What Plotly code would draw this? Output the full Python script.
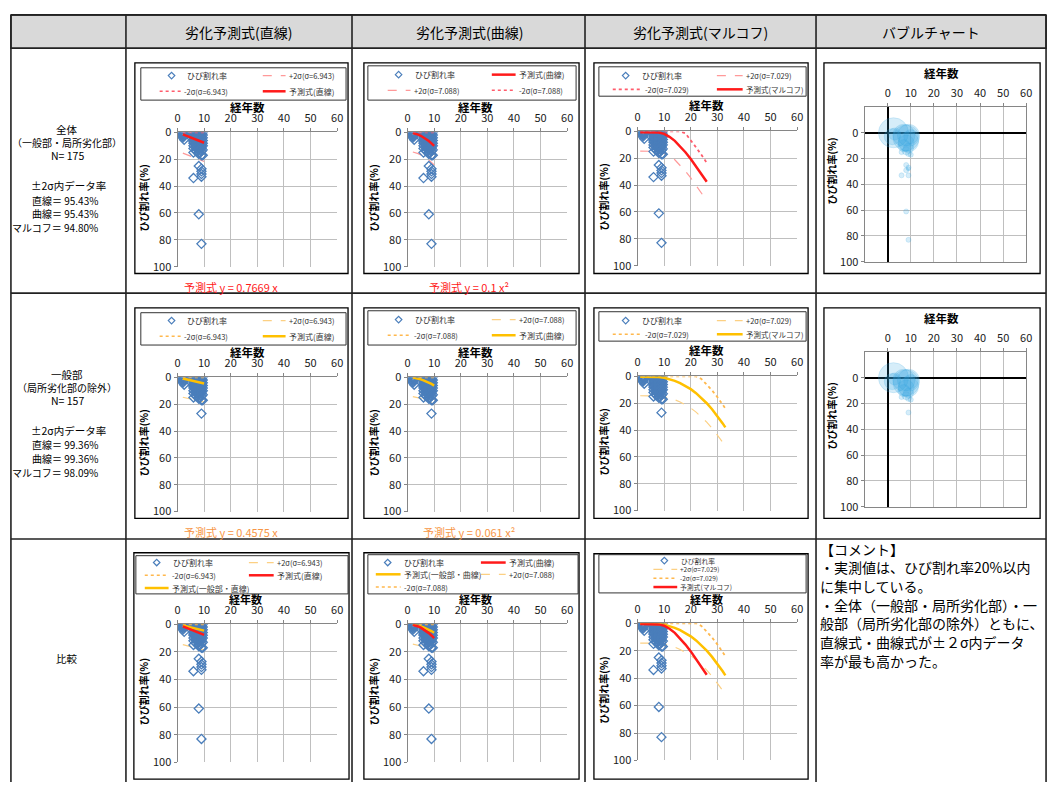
import plotly.graph_objects as go

W, H = 1058, 789
FONT = "Noto Sans CJK JP"

# ---------------- data ----------------
year_ticks = [0, 10, 20, 30, 40, 50, 60]
rate_ticks = [0, 20, 40, 60, 80, 100]

# observed crack rate (%) vs years, 全体 N=175
full_x = [2, 2, 2, 2, 2, 2, 2,
          2.5, 2.5, 2.5, 2.5,
          6, 6, 6, 6, 6, 6, 6, 6, 6, 6, 6, 6, 6,
          7, 7, 7, 7, 7, 7, 7, 7, 7, 7, 7, 7, 7, 7,
          8, 8, 8, 8, 8, 8, 8, 8, 8, 8, 8, 8, 8, 8, 8, 8, 8, 8,
          9, 9, 9, 9, 9, 9, 9, 9, 9, 9, 9, 9, 9, 9, 9, 9, 9, 9, 9, 9,
          9.5, 9.5, 9.5, 9.5, 9.5, 9.5, 9.5, 9.5]
full_y = [0, 0.5, 1, 1.5, 2, 3, 4,
          0, 1, 2, 5.5,
          0, 1, 2, 3, 4, 5, 6, 7, 8, 10, 12, 15, 34,
          0, 1, 2, 3, 4, 5, 6, 7, 8, 9, 10, 11, 12, 14,
          0, 1, 2, 3, 4, 5, 6, 7, 8, 9, 10, 11, 12, 13, 15, 16, 25, 61,
          0, 1, 2, 3, 4, 5, 6, 7, 8, 9, 10, 11, 12, 14, 17, 27, 29, 31, 33, 83,
          0, 2, 4, 6, 8, 10, 13, 17]

# 一般部 N=157
gen_x = [2, 2, 2, 2, 2, 2, 2,
         2.5, 2.5, 2.5, 2.5,
         6, 6, 6, 6, 6, 6, 6, 6, 6, 6, 6, 6,
         7, 7, 7, 7, 7, 7, 7, 7, 7, 7, 7, 7, 7, 7,
         8, 8, 8, 8, 8, 8, 8, 8, 8, 8, 8, 8, 8, 8, 8, 8,
         9, 9, 9, 9, 9, 9, 9, 9, 9, 9, 9, 9, 9, 9, 9, 9,
         9.5, 9.5, 9.5, 9.5, 9.5, 9.5, 9.5, 9.5]
gen_y = [0, 0.5, 1, 1.5, 2, 3, 4,
         0, 1, 2, 5.5,
         0, 1, 2, 3, 4, 5, 6, 7, 8, 10, 12, 15,
         0, 1, 2, 3, 4, 5, 6, 7, 8, 9, 10, 11, 12, 14,
         0, 1, 2, 3, 4, 5, 6, 7, 8, 9, 10, 11, 12, 13, 15, 16,
         0, 1, 2, 3, 4, 5, 6, 7, 8, 9, 10, 11, 12, 14, 17, 27,
         0, 2, 4, 6, 8, 10, 13, 17]

# straight-line model
lin_x = [2, 10]
lin_full = [1.5, 7.7]
lin_full_p2 = [15.4, 21.6]
lin_full_m2 = [0, 0]
lin_gen = [0.9, 4.6]
lin_gen_p2 = [14.8, 18.5]
lin_gen_m2 = [0, 0]

# curve model
cur_x = [2, 3, 4, 5, 6, 7, 8, 9, 10]
cur_full = [0.4, 0.9, 1.6, 2.5, 3.6, 4.9, 6.4, 8.1, 10.0]
cur_full_p2 = [14.6, 15.1, 15.8, 16.7, 17.8, 19.1, 20.6, 22.3, 24.2]
cur_full_m2 = [0, 0, 0, 0, 0, 0, 0, 0, 0]
cur_gen = [0.2, 0.5, 1.0, 1.5, 2.2, 3.0, 3.9, 4.9, 6.1]
cur_gen_p2 = [14.4, 14.7, 15.2, 15.7, 16.4, 17.2, 18.1, 19.1, 20.3]
cur_gen_m2 = [0, 0, 0, 0, 0, 0, 0, 0, 0]

# markov model
mk_full_x = [1, 2, 4, 6, 8, 10, 12, 14, 16, 18, 20, 22, 24, 26]
mk_full = [0.5, 0.5, 0.5, 0.5, 0.8, 1.8, 4.0, 7.0, 11.0, 15.5, 20.5, 26.0, 31.5, 37.5]
mk_full_p2 = [14.6, 14.6, 14.6, 14.6, 14.9, 15.9, 18.1, 21.1, 25.1, 29.6, 34.6, 40.1, 45.6, 51.6]
mk_full_m2 = [0, 0, 0, 0, 0, 0, 0, 0, 0, 1.4, 6.4, 11.9, 17.4, 23.4]
mk_gen_x = [1, 2, 4, 6, 8, 10, 12, 14, 16, 18, 20, 22, 24, 26, 28, 30, 32, 33]
mk_gen = [0.3, 0.3, 0.3, 0.3, 0.5, 1.0, 2.0, 3.3, 5.0, 7.0, 9.5, 12.5, 16.0, 20.0, 24.5, 29.5, 35.0, 38.0]
mk_gen_p2 = [14.4, 14.4, 14.4, 14.4, 14.6, 15.1, 16.1, 17.4, 19.1, 21.1, 23.6, 26.6, 30.1, 34.1, 38.6, 43.6, 49.1, 52.1]
mk_gen_m2 = [0, 0, 0, 0, 0, 0, 0, 0, 0, 0, 0, 0, 1.9, 5.9, 10.4, 15.4, 20.9, 23.9]

# bubble chart (x, y, relative size)
bub_full_x = [2.5, 2, 3, 7, 8, 9, 9, 8, 10, 7, 9, 8, 9, 6, 10, 8, 9, 8, 9, 6, 9, 8, 9]
bub_full_y = [0, 3, 1, 2, 4, 2, 7, 8, 3, 10, 12, 14, 16, 15, 17, 25, 27, 29, 28, 33, 33, 61, 83]
bub_full_s = [30, 16, 12, 22, 26, 22, 20, 16, 14, 12, 10, 8, 6, 5, 5, 5, 5, 5, 4, 5, 5, 5, 5]
bub_gen_x = [2.5, 2, 3, 7, 8, 9, 9, 8, 10, 7, 9, 8, 9, 6, 10, 9]
bub_gen_y = [0, 3, 1, 2, 4, 2, 7, 8, 3, 10, 12, 14, 16, 15, 17, 27]
bub_gen_s = [30, 16, 12, 22, 26, 22, 20, 16, 14, 12, 10, 8, 6, 5, 5, 5]

# ---------------- styles ----------------
BLUE = "#4a7ebb"
RED = "#ff1a1a"
PINK_DASH = "#ff9999"
PINK_DOT = "#ff5c6c"
YEL = "#ffc000"
OR_DASH = "#fcd083"
OR_DOT = "#ffb84d"
BUB = "rgba(50,165,225,0.28)"
GRID = "#bfbfbf"
AXL = "#868686"
TBL = "#222222"

fig = go.Figure()
layout = {}
shapes = []
annos = []


def X(p):
    return p / W


def Y(p):
    return 1 - p / H


def txt(x, y, s, size=11, color="#000", xanchor="center", angle=0, yanchor="middle"):
    annos.append(dict(x=X(x), y=Y(y), xref="paper", yref="paper", text=s, showarrow=False,
                      font=dict(size=size, color=color, family=FONT), xanchor=xanchor,
                      yanchor=yanchor, textangle=angle, borderpad=0))


def line(x0, y0, x1, y1, color, width=1, dash="solid"):
    shapes.append(dict(type="line", xref="paper", yref="paper", x0=X(x0), y0=Y(y0), x1=X(x1), y1=Y(y1),
                       line=dict(color=color, width=width, dash=dash)))


def rect(x0, y0, x1, y1, color, width=1, fill=None, layer="above"):
    d = dict(type="rect", xref="paper", yref="paper", x0=X(x0), y0=Y(y0), x1=X(x1), y1=Y(y1),
             line=dict(color=color, width=width), layer=layer)
    if fill:
        d["fillcolor"] = fill
    shapes.append(d)


def add_axes(k, l, r, t, b, bubble=False):
    s = "" if k == 1 else str(k)
    tf = dict(size=11, color="#1a1a1a", family=FONT)
    if bubble:
        xa = dict(domain=[X(l), X(r)], anchor="y" + s, side="top", range=[-10, 60],
                  tickvals=year_ticks,
                  showgrid=True, gridcolor=GRID, gridwidth=1, showline=True, linecolor=AXL,
                  mirror=True, ticks="outside", ticklen=3, tickcolor=AXL, tickfont=tf,
                  ticklabelstandoff=2,
                  zeroline=True, zerolinecolor="#000", zerolinewidth=2, fixedrange=True)
        ya = dict(domain=[Y(b), Y(t)], anchor="x" + s, range=[100, -20],
                  tickvals=rate_ticks,
                  showgrid=True, gridcolor=GRID, gridwidth=1, showline=True, linecolor=AXL,
                  mirror=True, ticks="outside", ticklen=3, tickcolor=AXL, tickfont=tf,
                  zeroline=True, zerolinecolor="#000", zerolinewidth=2, fixedrange=True)
    else:
        xa = dict(domain=[X(l), X(r)], anchor="y" + s, side="top", range=[0, 60],
                  tickvals=year_ticks, showgrid=True, gridcolor=GRID, gridwidth=1,
                  showline=True, linecolor=AXL, ticks="outside", ticklen=3, tickcolor=AXL,
                  tickfont=tf, ticklabelstandoff=2, zeroline=False, fixedrange=True)
        ya = dict(domain=[Y(b), Y(t)], anchor="x" + s, range=[100, 0],
                  tickvals=rate_ticks, showgrid=True, gridcolor=GRID, gridwidth=1,
                  showline=True, linecolor=AXL, ticks="outside", ticklen=3, tickcolor=AXL,
                  tickfont=tf, zeroline=False, fixedrange=True)
    layout["xaxis" + s] = xa
    layout["yaxis" + s] = ya
    return "x" + s, "y" + s


def add_line(ax, xs, ys, color, width, dash="solid"):
    fig.add_trace(go.Scatter(x=xs, y=ys, mode="lines", xaxis=ax[0], yaxis=ax[1],
                             line=dict(color=color, width=width, dash=dash), showlegend=False,
                             hoverinfo="skip"))


def add_pts(ax, xs, ys):
    fig.add_trace(go.Scatter(x=xs, y=ys, mode="markers", xaxis=ax[0], yaxis=ax[1],
                             marker=dict(symbol="diamond-open", size=7, color=BLUE,
                                         line=dict(width=1.3, color=BLUE)),
                             showlegend=False, hoverinfo="skip"))


def add_bub(ax, xs, ys, ss):
    fig.add_trace(go.Scatter(x=xs, y=ys, mode="markers", xaxis=ax[0], yaxis=ax[1],
                             marker=dict(size=ss, sizemode="diameter", sizeref=1, color=BUB,
                                         line=dict(width=0.6, color="rgba(50,165,225,0.45)")),
                             showlegend=False, hoverinfo="skip"))


# ---------------- table ----------------
rect(8, 6, 1052, 40, TBL, 1.5, fill="#d9d9d9", layer="below")
for xv in [8, 124, 352, 587, 820, 1052]:
    line(xv, 6, xv, 789, TBL, 1.6)
for yv in [6, 40, 290, 541]:
    line(8, yv, 1052, yv, TBL, 1.6)

txt(238, 23, "劣化予測式(直線)", 14)
txt(470, 23, "劣化予測式(曲線)", 14)
txt(703, 23, "劣化予測式(マルコフ)", 14)
txt(936, 23, "バブルチャート", 14)

# left labels
for base, lines_c, vals in [
    (0, ["全体", "（一般部・局所劣化部）", "N= 175"], ["直線＝ 95.43%", "曲線＝ 95.43%", "マルコフ＝ 94.80%"]),
    (250, ["一般部", "（局所劣化部の除外）", "N= 157"], ["直線＝ 99.36%", "曲線＝ 99.36%", "マルコフ＝ 98.09%"]),
]:
    txt(65, 123 + base, lines_c[0], 10.5)
    txt(65, 136 + base, lines_c[1], 10)
    txt(65, 150 + base, lines_c[2], 10.5)
    txt(66, 180 + base, "±2σ内データ率", 10.5)
    txt(97, 195 + base, vals[0], 10, xanchor="right")
    txt(97, 209 + base, vals[1], 10, xanchor="right")
    txt(97, 223 + base, vals[2], 10, xanchor="right")
txt(65, 663, "比較", 10.5)

# comment
comment = ["【コメント】", "・実測値は、ひび割れ率20%以内", "に集中している。",
           "・全体（一般部・局所劣化部）・一", "般部（局所劣化部の除外）ともに、",
           "直線式・曲線式が±２σ内データ", "率が最も高かった。"]
for i, s in enumerate(comment):
    txt(823, 551 + 19 * i, s, 14, xanchor="left")

# ---------------- overlay axis for legend markers ----------------
layout["xaxis20"] = dict(domain=[0, 1], range=[0, W], visible=False, anchor="y20", fixedrange=True)
layout["yaxis20"] = dict(domain=[0, 1], range=[H, 0], visible=False, anchor="x20", fixedrange=True)
leg_mx, leg_my = [], []


def leg_marker(x, y):
    leg_mx.append(x)
    leg_my.append(y)


def leg_text(x, y, s, size=7.5):
    txt(x, y, s, size, "#333", xanchor="left")


def leg_sample(x0, x1, y, kind, color):
    if kind == "solid":
        line(x0, y, x1, y, color, 2.5)
    elif kind == "dash":
        line(x0, y, x1, y, color, 1.2, "dash")
    else:
        line(x0, y, x1, y, color, 1.6, "dot")


# ---------------- panels ----------------
def std_panel(k, l, r, t, b, frame, legbox, title_xy, ytitle_x, tsize=11.5):
    ax = add_axes(k, l, r, t, b)
    rect(frame[0], frame[1], frame[2], frame[3], "#000", 1.3)
    rect(legbox[0], legbox[1], legbox[2], legbox[3], "#333", 1)
    txt(title_xy[0], title_xy[1], "<b>経年数</b>", tsize)
    txt(ytitle_x, (t + b) / 2 - 2, "<b>ひび割れ率(%)</b>", 10, angle=-90)
    return ax


# Row 1
a1 = std_panel(1, 176, 337, 126, 263, (133, 55, 348, 270), (139, 60, 346, 93), (247, 100), 142)
add_line(a1, lin_x, lin_full_p2, PINK_DASH, 1.2, "dash")
add_pts(a1, full_x, full_y)
add_line(a1, lin_x, lin_full_m2, PINK_DOT, 1.8, "dot")
add_line(a1, lin_x, lin_full, RED, 2.5)
leg_marker(170, 68); leg_text(185, 68, "ひび割れ率", 8)
leg_sample(262, 285, 68, "dash", PINK_DASH); leg_text(287, 68, "+2σ(σ=6.943)")
leg_sample(158, 180, 84, "dot", PINK_DOT); leg_text(182, 84, "-2σ(σ=6.943)")
leg_sample(262, 285, 84, "solid", RED); leg_text(287, 84, "予測式(直線)", 8)
txt(230, 284, "予測式 y = 0.7669 x", 11, RED)

a2 = std_panel(2, 408, 569, 126, 263, (364, 55, 581, 270), (368, 58, 578, 93), (477, 100), 374)
add_line(a2, cur_x, cur_full_p2, PINK_DASH, 1.2, "dash")
add_pts(a2, full_x, full_y)
add_line(a2, cur_x, cur_full_m2, PINK_DOT, 1.8, "dot")
add_line(a2, cur_x, cur_full, RED, 2.5)
leg_marker(399, 67); leg_text(415, 67, "ひび割れ率", 8)
leg_sample(493, 517, 67, "solid", RED); leg_text(519, 67, "予測式(曲線)", 8)
leg_sample(388, 411, 83, "dash", PINK_DASH); leg_text(414, 83, "+2σ(σ=7.088)")
leg_sample(493, 517, 83, "dot", PINK_DOT); leg_text(519, 83, "-2σ(σ=7.088)")
txt(470, 284, "予測式 y = 0.1 x²", 11, RED)

a3 = std_panel(3, 640, 801, 125, 262, (596, 55, 812, 270), (601, 59, 810, 89), (710, 98), 606)
add_line(a3, mk_full_x, mk_full_p2, PINK_DASH, 1.2, "dash")
add_pts(a3, full_x, full_y)
add_line(a3, mk_full_x, mk_full_m2, PINK_DOT, 1.8, "dot")
add_line(a3, mk_full_x, mk_full, RED, 2.5)
leg_marker(628, 68); leg_text(643, 68, "ひび割れ率", 8)
leg_sample(720, 746, 68, "dash", PINK_DASH); leg_text(748, 68, "+2σ(σ=7.029)")
leg_sample(615, 645, 82, "dot", PINK_DOT); leg_text(647, 82, "-2σ(σ=7.029)")
leg_sample(720, 746, 82, "solid", RED); leg_text(748, 82, "予測式(マルコフ)", 7.5)

a4 = add_axes(4, 869, 1032, 100, 258, bubble=True)
rect(828, 55, 1046, 270, "#000", 1.3)
txt(947, 65, "<b>経年数</b>", 11.5)
txt(836, 165, "<b>ひび割れ率(%)</b>", 10, angle=-90)
add_bub(a4, bub_full_x, bub_full_y, bub_full_s)

# Row 2
o = 250
a5 = std_panel(5, 176, 337, 126 + o, 263 + o, (133, 55 + o, 348, 270 + o), (139, 60 + o, 346, 93 + o), (247, 100 + o), 142)
add_line(a5, lin_x, lin_gen_p2, OR_DASH, 1.2, "dash")
add_pts(a5, gen_x, gen_y)
add_line(a5, lin_x, lin_gen_m2, OR_DOT, 1.8, "dot")
add_line(a5, lin_x, lin_gen, YEL, 2.5)
leg_marker(170, 68 + o); leg_text(185, 68 + o, "ひび割れ率", 8)
leg_sample(262, 285, 68 + o, "dash", OR_DASH); leg_text(287, 68 + o, "+2σ(σ=6.943)")
leg_sample(158, 180, 84 + o, "dot", OR_DOT); leg_text(182, 84 + o, "-2σ(σ=6.943)")
leg_sample(262, 285, 84 + o, "solid", YEL); leg_text(287, 84 + o, "予測式(直線)", 8)
txt(230, 534, "予測式 y = 0.4575 x", 11, "#f79646")

a6 = std_panel(6, 408, 569, 126 + o, 263 + o, (364, 55 + o, 581, 270 + o), (368, 58 + o, 578, 93 + o), (477, 100 + o), 374)
add_line(a6, cur_x, cur_gen_p2, OR_DASH, 1.2, "dash")
add_pts(a6, gen_x, gen_y)
add_line(a6, cur_x, cur_gen_m2, OR_DOT, 1.8, "dot")
add_line(a6, cur_x, cur_gen, YEL, 2.5)
leg_marker(399, 67 + o); leg_text(415, 67 + o, "ひび割れ率", 8)
leg_sample(493, 517, 67 + o, "dash", OR_DASH); leg_text(519, 67 + o, "+2σ(σ=7.088)")
leg_sample(388, 411, 83 + o, "dot", OR_DOT); leg_text(414, 83 + o, "-2σ(σ=7.088)")
leg_sample(493, 517, 83 + o, "solid", YEL); leg_text(519, 83 + o, "予測式(曲線)", 8)
txt(470, 534, "予測式 y = 0.061 x²", 11, "#f79646")

a7 = std_panel(7, 640, 801, 125 + o, 262 + o, (596, 55 + o, 812, 270 + o), (601, 59 + o, 810, 89 + o), (710, 98 + o), 606)
add_line(a7, mk_gen_x, mk_gen_p2, OR_DASH, 1.2, "dash")
add_pts(a7, gen_x, gen_y)
add_line(a7, mk_gen_x, mk_gen_m2, OR_DOT, 1.8, "dot")
add_line(a7, mk_gen_x, mk_gen, YEL, 2.5)
leg_marker(628, 68 + o); leg_text(643, 68 + o, "ひび割れ率", 8)
leg_sample(720, 746, 68 + o, "dash", OR_DASH); leg_text(748, 68 + o, "+2σ(σ=7.029)")
leg_sample(615, 645, 82 + o, "dot", OR_DOT); leg_text(647, 82 + o, "-2σ(σ=7.029)")
leg_sample(720, 746, 82 + o, "solid", YEL); leg_text(748, 82 + o, "予測式(マルコフ)", 7.5)

a8 = add_axes(8, 869, 1032, 100 + o, 258 + o, bubble=True)
rect(828, 55 + o, 1046, 270 + o, "#000", 1.3)
txt(947, 65 + o, "<b>経年数</b>", 11.5)
txt(836, 165 + o, "<b>ひび割れ率(%)</b>", 10, angle=-90)
add_bub(a8, bub_gen_x, bub_gen_y, bub_gen_s)

# Row 3
a9 = std_panel(9, 176, 337, 628, 769, (132, 555, 349, 786), (134, 558, 348, 597), (245, 602), 142, 11)
add_line(a9, lin_x, lin_gen_p2, OR_DASH, 1.2, "dash")
add_pts(a9, full_x, full_y)
add_line(a9, lin_x, lin_gen_m2, OR_DOT, 1.8, "dot")
add_line(a9, lin_x, lin_gen, YEL, 2.5)
add_line(a9, lin_x, lin_full, RED, 2.5)
leg_marker(155, 565); leg_text(170, 565, "ひび割れ率", 8)
leg_sample(248, 273, 565, "dash", OR_DASH); leg_text(275, 565, "+2σ(σ=6.943)")
leg_sample(143, 167, 578, "dot", OR_DOT); leg_text(169, 578, "-2σ(σ=6.943)")
leg_sample(248, 273, 578, "solid", RED); leg_text(275, 578, "予測式(直線)", 8)
leg_sample(143, 167, 591, "solid", YEL); leg_text(169, 591, "予測式(一般部・直線)", 8)

a10 = std_panel(10, 408, 569, 628, 769, (364, 555, 581, 786), (368, 557, 580, 597), (477, 602), 374, 11)
add_line(a10, cur_x, cur_gen_p2, OR_DASH, 1.2, "dash")
add_pts(a10, full_x, full_y)
add_line(a10, cur_x, cur_gen_m2, OR_DOT, 1.8, "dot")
add_line(a10, cur_x, cur_gen, YEL, 2.5)
add_line(a10, cur_x, cur_full, RED, 2.5)
leg_marker(388, 565); leg_text(403, 565, "ひび割れ率", 8)
leg_sample(482, 507, 565, "solid", RED); leg_text(509, 565, "予測式(曲線)", 8)
leg_sample(376, 401, 577, "solid", YEL); leg_text(403, 577, "予測式(一般部・曲線)", 8)
leg_sample(482, 507, 577, "dash", OR_DASH); leg_text(509, 577, "+2σ(σ=7.088)")
leg_sample(376, 401, 590, "dot", OR_DOT); leg_text(403, 590, "-2σ(σ=7.088)")

a11 = std_panel(11, 640, 801, 627, 767, (596, 556, 812, 786), (601, 557, 810, 596), (710, 602), 606, 11)
add_line(a11, mk_gen_x, mk_gen_p2, OR_DASH, 1.2, "dash")
add_pts(a11, full_x, full_y)
add_line(a11, mk_gen_x, mk_gen_m2, OR_DOT, 1.8, "dot")
add_line(a11, mk_gen_x, mk_gen, YEL, 2.5)
add_line(a11, mk_full_x, mk_full, RED, 2.5)
leg_marker(667, 563); leg_text(683, 563, "ひび割れ率", 6.8)
leg_sample(656, 680, 572, "dash", OR_DASH); leg_text(682, 572, "+2σ(σ=7.029)", 6.5)
leg_sample(656, 680, 581, "dot", OR_DOT); leg_text(682, 581, "-2σ(σ=7.029)", 6.5)
leg_sample(656, 680, 590, "solid", RED); leg_text(682, 590, "予測式(マルコフ)", 6.8)

fig.add_trace(go.Scatter(x=leg_mx, y=leg_my, mode="markers", xaxis="x20", yaxis="y20",
                         marker=dict(symbol="diamond-open", size=5, color=BLUE,
                                     line=dict(width=1.2, color=BLUE)),
                         showlegend=False, hoverinfo="skip"))

fig.update_layout(width=W, height=H, margin=dict(l=0, r=0, t=0, b=0),
                  paper_bgcolor="white", plot_bgcolor="rgba(0,0,0,0)",
                  showlegend=False, shapes=shapes, annotations=annos,
                  font=dict(family=FONT), **layout)
fig.write_html("out.html")
